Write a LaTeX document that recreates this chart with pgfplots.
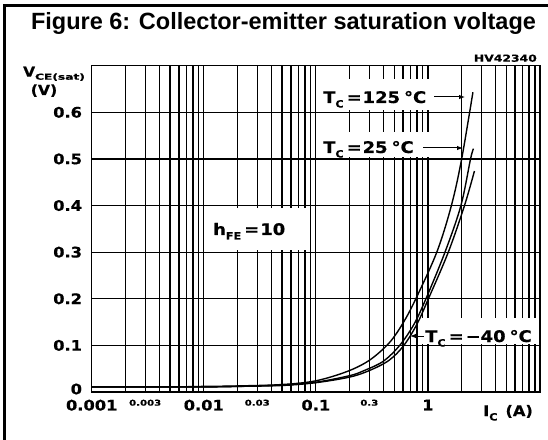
\documentclass[border=0pt]{standalone}
\usepackage{fontspec}
\setmainfont{Liberation Sans}
\newfontfamily\dv{DejaVu Sans}[FakeStretch=1.12, BoldFeatures={FakeBold=0.6}]
\usepackage{graphicx}
\usepackage{pgfplots}
\pgfplotsset{compat=1.18}
\usetikzlibrary{arrows.meta}
\newcommand\lbl{\dv\bfseries\fontsize{14.5}{15}\selectfont}
\newcommand\ilbl{\dv\bfseries\fontsize{16}{16}\selectfont}
\newcommand\sbc[1]{\raisebox{-4.5pt}{\fontsize{10}{10}\selectfont #1}}
\begin{document}
\begin{tikzpicture}[x=1pt,y=1pt]
\useasboundingbox (0,0) rectangle (548,439);
\clip (0,0) rectangle (548,439);
\draw[line width=2.4pt] (4.5,-5) -- (4.5,433.5) -- (560,433.5);
\begin{axis}[
  at={(91.7pt,47pt)}, anchor=south west, scale only axis,
  width=448.3pt, height=326.3pt,
  xmode=log, log basis x=10,
  xmin=0.001, xmax=10, ymin=0, ymax=0.7,
  xtick={0.001,0.01,0.1,1}, xticklabels={0.001,0.01,0.1,1},
  minor xtick={0.002,0.003,0.004,0.005,0.006,0.007,0.008,0.009,
               0.02,0.03,0.04,0.05,0.06,0.07,0.08,0.09,
               0.2,0.3,0.4,0.5,0.6,0.7,0.8,0.9,
               2,3,4,5,6,7,8,9},
  ytick={0.1,0.2,0.3,0.4,0.5,0.6},
  yticklabels={0.1,0.2,0.3,0.4,0.5,0.6},
  extra y ticks={0}, extra y tick labels={0},
  extra y tick style={grid=none, yticklabel style={yshift=3pt}},
  extra x ticks={0.003,0.03,0.3},
  extra x tick labels={\scalebox{1.13}[1]{0.003},\scalebox{1.13}[1]{0.03},\scalebox{1.13}[1]{0.3}},
  extra x tick style={grid=none, xticklabel style={font=\dv\bfseries\fontsize{8}{8}\selectfont}},
  xmajorgrids, xminorgrids, ymajorgrids,
  major tick length=0pt, minor tick length=0pt,
  major grid style={black, line width=1.3pt},
  minor grid style={black, line width=1.3pt},
  axis line style={line width=1.6pt},
  tick label style={font=\lbl},
  xticklabel style={anchor=north, inner sep=0pt, yshift=-7.5pt},
  yticklabel style={anchor=east, inner sep=0pt, xshift=-9.5pt},
]
\fill[white] (rel axis cs:0.5048,0.8630) rectangle (rel axis cs:0.7591,0.9592);
\fill[white] (rel axis cs:0.5048,0.7190) rectangle (rel axis cs:0.7591,0.7968);
\fill[white] (rel axis cs:0.7301,0.1475) rectangle (rel axis cs:0.9945,0.2268);
\fill[white] (rel axis cs:0.2572,0.4360) rectangle (rel axis cs:0.4825,0.5635);
% Tc = 125 C
\addplot[black, line width=1.4pt, smooth, tension=0.55] coordinates {
 (0.001,0.011)(0.005,0.011)(0.01,0.012)(0.02,0.013)(0.05,0.016)(0.1,0.024)
 (0.19,0.044)(0.3,0.068)(0.45,0.105)(0.6,0.148)(0.78,0.2)(1.2,0.3)(1.62,0.4)
 (2.0,0.5)(2.52,0.643)};
% Tc = 25 C
\addplot[black, line width=1.4pt, smooth, tension=0.55] coordinates {
 (0.001,0.011)(0.01,0.011)(0.02,0.012)(0.05,0.015)(0.1,0.021)(0.2,0.035)
 (0.27,0.046)(0.4,0.066)(0.56,0.1)(0.75,0.145)(0.96,0.2)(1.42,0.3)(1.97,0.4)
 (2.4,0.5)(2.55,0.522)};
% Tc = -40 C
\addplot[black, line width=1.4pt, smooth, tension=0.55] coordinates {
 (0.001,0.011)(0.01,0.011)(0.02,0.012)(0.05,0.014)(0.1,0.02)(0.2,0.032)
 (0.3,0.046)(0.45,0.068)(0.61,0.1)(0.8,0.146)(1.01,0.2)(1.52,0.3)(2.12,0.4)
 (2.6,0.474)};
\end{axis}
\node[anchor=base, inner sep=0] at (283.5,409) {\fontsize{23.5}{24}\selectfont\bfseries Figure 6: Collector-emitter saturation voltage};
\node[anchor=base east, inner sep=0] at (537,377.3) {\dv\bfseries\fontsize{9.6}{10}\selectfont\scalebox{1.15}[1]{HV42340}};
\node[anchor=base west, inner sep=0] at (23,362.3) {\dv\bfseries\fontsize{13.7}{14}\selectfont V\raisebox{-3pt}{\fontsize{8.2}{8}\selectfont\scalebox{1.33}[1]{CE(sat)}}};
\node[anchor=base, inner sep=0] at (44,344) {\dv\bfseries\fontsize{14}{14}\selectfont (V)};
\node[anchor=base west, inner sep=0] at (323,336) {\ilbl T\sbc{C}\hspace{3pt}=\hspace{1pt}125\hspace{4pt}°C};
\draw[line width=1pt, -{Latex[length=6pt,width=4.5pt]}] (434,342) -- (465,342);
\node[anchor=base west, inner sep=0] at (323,286) {\ilbl T\sbc{C}\hspace{3pt}=\hspace{1pt}25\hspace{4pt}°C};
\draw[line width=1pt, -{Latex[length=6pt,width=4.5pt]}] (423,291) -- (463,291);
\node[anchor=base west, inner sep=0] at (425,97) {\ilbl T\sbc{C}\hspace{3pt}=\hspace{2pt}−40\hspace{4pt}°C};
\draw[line width=1pt, -{Latex[length=6pt,width=4.5pt]}] (424,103) -- (410,103);
\node[anchor=base west, inner sep=0] at (213,204) {\ilbl h\sbc{FE}\hspace{3pt}=\hspace{1pt}10};
\node[anchor=base west, inner sep=0] at (483,23) {\lbl I\sbc{C}\hspace{8pt}(A)};
\end{tikzpicture}
\end{document}
